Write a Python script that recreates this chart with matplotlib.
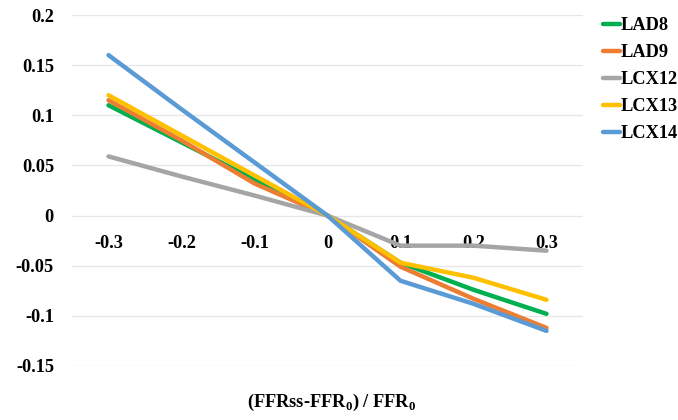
import matplotlib
matplotlib.use("Agg")
import matplotlib.pyplot as plt

categories = ["-0.3", "-0.2", "-0.1", "0", "0.1", "0.2", "0.3"]
series_names = ["LAD8", "LAD9", "LCX12", "LCX13", "LCX14"]
lad8 = [0.110, 0.073, 0.036, 0.0, -0.047, -0.074, -0.098]
lad9 = [0.115, 0.075, 0.032, 0.0, -0.051, -0.083, -0.112]
lcx12 = [0.059, 0.039, 0.020, 0.0, -0.030, -0.030, -0.035]
lcx13 = [0.120, 0.080, 0.040, 0.0, -0.047, -0.062, -0.084]
lcx14 = [0.160, 0.106, 0.053, 0.0, -0.065, -0.088, -0.115]
yticks = [-0.15, -0.1, -0.05, 0, 0.05, 0.1, 0.15, 0.2]
ytick_labels = ["-0.15", "-0.1", "-0.05", "0", "0.05", "0.1", "0.15", "0.2"]
colors = ["#00B050", "#ED7D31", "#A5A5A5", "#FFC000", "#5B9BD5"]

plt.rcParams['font.family'] = ['Liberation Serif', 'DejaVu Serif']
plt.rcParams['font.weight'] = 'bold'

FS = 13.2
fig = plt.figure(figsize=(6.78, 4.2), dpi=100)
W, H = 678, 420
left, right, top, bottom = 72, 583, 15, 366
ax = fig.add_axes([left / W, 1 - bottom / H, (right - left) / W, (bottom - top) / H])

xs = list(range(len(categories)))
for name, vals, c in zip(series_names, [lad8, lad9, lcx12, lcx13, lcx14], colors):
    ax.plot(xs, vals, color=c, lw=3.2, label=name, solid_capstyle='round', solid_joinstyle='round')

ax.set_xlim(-0.5, len(categories) - 0.5)
ax.set_ylim(-0.15, 0.2)
for s in ['top', 'right', 'left']:
    ax.spines[s].set_visible(False)
ax.spines['bottom'].set_position(('data', 0))
ax.spines['bottom'].set_visible(False)
ax.set_yticks(yticks)
ax.set_yticklabels(ytick_labels)
ax.set_xticks(xs)
ax.set_xticklabels(categories)
ax.tick_params(axis='both', labelsize=FS)
for lab in ax.get_xticklabels() + ax.get_yticklabels():
    lab.set_fontweight('bold')
ax.grid(axis='y', color='#E6E6E6', lw=0.9)
ax.set_axisbelow(True)
ax.tick_params(axis='x', length=0, pad=14)
ax.tick_params(axis='y', length=0, pad=13)

leg = ax.legend(loc='upper left', bbox_to_anchor=(1.025, 1.015), frameon=False,
                prop={'family': 'Liberation Serif', 'weight': 'bold', 'size': FS},
                handlelength=0.9, handletextpad=0.05, labelspacing=0.55, borderaxespad=0)
for line in leg.get_lines():
    line.set_linewidth(3.2)

fig.text(332 / W, 1 - 402 / H, r"(FFRss-FFR$_\mathregular{0}$) / FFR$_\mathregular{0}$",
         ha='center', va='center', fontsize=FS, fontweight='bold')

fig.savefig("out.png", dpi=100)
